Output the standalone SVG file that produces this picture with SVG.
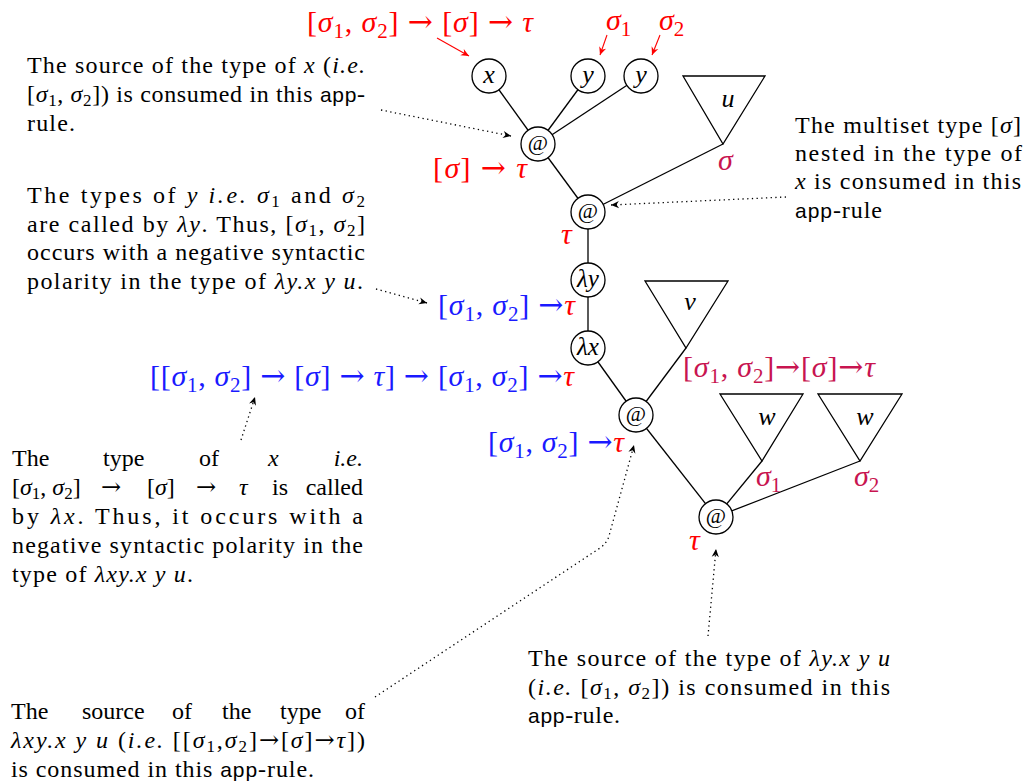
<svg xmlns="http://www.w3.org/2000/svg" width="1026" height="784" viewBox="0 0 1026 784">
<style>
.b { font-family: "Liberation Serif", "DejaVu Serif", serif; font-size: 24px; fill: #000; }
.i { font-style: italic; }
.ar { font-family: "DejaVu Serif", serif; font-style: normal; }
.sf { font-family: "Liberation Sans", "DejaVu Sans", sans-serif; font-size: 21px; }
.s { font-size: 17px; }
.L { font-family: "Liberation Serif", "DejaVu Serif", serif; font-size: 30px; }
.Ls { font-size: 21px; }
.nl { font-family: "Liberation Serif", "DejaVu Serif", serif; font-size: 26px; fill: #000; }
.lam { font-family: "Liberation Serif", "DejaVu Serif", serif; font-size: 25px; fill: #000; font-style: italic; }
.at { font-family: "Liberation Serif", "DejaVu Serif", serif; font-size: 22px; fill: #000; }
.red { fill: #ff0000; }
.blue { fill: #1a1aff; }
.crim { fill: #c81450; }
.edge { stroke: #000; stroke-width: 1.3; fill: none; }
.node circle { fill: #fff; stroke: #000; stroke-width: 1.3; }
.tri polygon { fill: none; stroke: #000; stroke-width: 1.3; stroke-linejoin: miter; }
.dot { stroke: #000; stroke-width: 1.3; stroke-dasharray: 1.3 3.4; fill: none; marker-end: url(#ah); }
.rarr { stroke: #ff0000; stroke-width: 1.1; fill: none; marker-end: url(#rh); }
</style>
<defs>
<marker id="ah" markerUnits="userSpaceOnUse" markerWidth="12" markerHeight="12" refX="0" refY="0" viewBox="-10 -6 12 12" orient="auto">
<path d="M0,0 L-8,-3.6 L-5.5,0 L-8,3.6 Z" fill="#000" stroke="none"/>
</marker>
<marker id="rh" markerUnits="userSpaceOnUse" markerWidth="12" markerHeight="12" refX="0" refY="0" viewBox="-10 -6 12 12" orient="auto">
<path d="M0,0 L-8,-3.6 L-5.5,0 L-8,3.6 Z" fill="#ff0000" stroke="none"/>
</marker>
</defs>
<rect width="1026" height="784" fill="#fff"/>

<g id="connectors">
<line class="edge" x1="489" y1="76" x2="538" y2="144"/>
<line class="edge" x1="588" y1="76" x2="538" y2="144"/>
<line class="edge" x1="641" y1="76" x2="538" y2="144"/>
<line class="edge" x1="538" y1="144" x2="588" y2="212"/>
<line class="edge" x1="723" y1="144" x2="588" y2="212"/>
<line class="edge" x1="588" y1="212" x2="588" y2="280"/>
<line class="edge" x1="588" y1="280" x2="588" y2="348"/>
<line class="edge" x1="588" y1="348" x2="636" y2="415"/>
<line class="edge" x1="686" y1="348" x2="636" y2="415"/>
<line class="edge" x1="636" y1="415" x2="716" y2="517"/>
<line class="edge" x1="762" y1="461" x2="716" y2="517"/>
<line class="edge" x1="860" y1="461" x2="716" y2="517"/>
<path class="rarr" d="M437,38 L469,56"/>
<path class="rarr" d="M607,35 L600,55"/>
<path class="rarr" d="M660,35 L652,55"/>
<path class="dot" d="M381,110 L511,136"/>
<path class="dot" d="M786,197 L611,205"/>
<path class="dot" d="M376,289 L427,303"/>
<path class="dot" d="M241,440 L255,397"/>
<path class="dot" d="M375,697 L600,548 Q607,543 609,536 L634,445"/>
<path class="dot" d="M708,636 L716,549"/>
</g>

<g id="n-x" class="node"><circle cx="489" cy="76" r="17"/><text class="nl i" x="489" y="83" text-anchor="middle">x</text></g>
<g id="n-y1" class="node"><circle cx="588" cy="76" r="17"/><text class="nl i" x="588" y="83" text-anchor="middle">y</text></g>
<g id="n-y2" class="node"><circle cx="641" cy="76" r="17"/><text class="nl i" x="641" y="83" text-anchor="middle">y</text></g>
<g id="n-app1" class="node"><circle cx="538" cy="144" r="17"/><text class="at" x="538" y="150" text-anchor="middle">@</text></g>
<g id="n-app2" class="node"><circle cx="588" cy="212" r="17"/><text class="at" x="588" y="218" text-anchor="middle">@</text></g>
<g id="n-lamy" class="node"><circle cx="588" cy="280" r="17"/><text class="lam" x="588" y="287" text-anchor="middle">λy</text></g>
<g id="n-lamx" class="node"><circle cx="588" cy="348" r="17"/><text class="lam" x="588" y="355" text-anchor="middle">λx</text></g>
<g id="n-app3" class="node"><circle cx="636" cy="415" r="17"/><text class="at" x="636" y="421" text-anchor="middle">@</text></g>
<g id="n-app4" class="node"><circle cx="716" cy="517" r="17"/><text class="at" x="716" y="523" text-anchor="middle">@</text></g>

<g id="t-u" class="tri"><polygon points="683,76 765,76 723,144"/><text class="nl i" x="728" y="107" text-anchor="middle">u</text></g>
<g id="t-v" class="tri"><polygon points="645,281 728,281 686,348"/><text class="nl i" x="690" y="310" text-anchor="middle">v</text></g>
<g id="t-w1" class="tri"><polygon points="720,394 803,394 762,461"/><text class="nl i" x="767" y="425" text-anchor="middle">w</text></g>
<g id="t-w2" class="tri"><polygon points="818,394 902,394 860,461"/><text class="nl i" x="865" y="425" text-anchor="middle">w</text></g>

<g id="type-labels">
<text class="L red" x="307" y="32" textLength="226" lengthAdjust="spacing">[<tspan class="i">σ</tspan><tspan class="Ls" dy="6">1</tspan><tspan dy="-6">, </tspan><tspan class="i">σ</tspan><tspan class="Ls" dy="6">2</tspan><tspan dy="-6">] </tspan><tspan class="ar">→</tspan> [<tspan class="i">σ</tspan>] <tspan class="ar">→</tspan> <tspan class="i">τ</tspan></text>
<text class="L red" x="606" y="30"><tspan class="i">σ</tspan><tspan class="Ls" dy="6">1</tspan></text>
<text class="L red" x="659" y="30"><tspan class="i">σ</tspan><tspan class="Ls" dy="6">2</tspan></text>
<text class="L red" x="433" y="178" textLength="94" lengthAdjust="spacing">[<tspan class="i">σ</tspan>] <tspan class="ar">→</tspan> <tspan class="i">τ</tspan></text>
<text class="L red" x="561" y="244"><tspan class="i">τ</tspan></text>
<text class="L blue" x="438" y="315" textLength="137" lengthAdjust="spacing">[<tspan class="i">σ</tspan><tspan class="Ls" dy="6">1</tspan><tspan dy="-6">, </tspan><tspan class="i">σ</tspan><tspan class="Ls" dy="6">2</tspan><tspan dy="-6">] </tspan><tspan class="ar">→</tspan><tspan class="i red">τ</tspan></text>
<text class="L blue" x="150" y="386" textLength="424" lengthAdjust="spacing">[[<tspan class="i">σ</tspan><tspan class="Ls" dy="6">1</tspan><tspan dy="-6">, </tspan><tspan class="i">σ</tspan><tspan class="Ls" dy="6">2</tspan><tspan dy="-6">] </tspan><tspan class="ar">→</tspan> [<tspan class="i">σ</tspan>] <tspan class="ar">→</tspan> <tspan class="i">τ</tspan>] <tspan class="ar">→</tspan> [<tspan class="i">σ</tspan><tspan class="Ls" dy="6">1</tspan><tspan dy="-6">, </tspan><tspan class="i">σ</tspan><tspan class="Ls" dy="6">2</tspan><tspan dy="-6">] </tspan><tspan class="ar">→</tspan><tspan class="i red">τ</tspan></text>
<text class="L crim" x="683" y="377" textLength="192" lengthAdjust="spacing">[<tspan class="i">σ</tspan><tspan class="Ls" dy="6">1</tspan><tspan dy="-6">, </tspan><tspan class="i">σ</tspan><tspan class="Ls" dy="6">2</tspan><tspan dy="-6">]</tspan><tspan class="ar">→</tspan>[<tspan class="i">σ</tspan>]<tspan class="ar">→</tspan><tspan class="i">τ</tspan></text>
<text class="L blue" x="488" y="452" textLength="136" lengthAdjust="spacing">[<tspan class="i">σ</tspan><tspan class="Ls" dy="6">1</tspan><tspan dy="-6">, </tspan><tspan class="i">σ</tspan><tspan class="Ls" dy="6">2</tspan><tspan dy="-6">] </tspan><tspan class="ar">→</tspan><tspan class="i red">τ</tspan></text>
<text class="L red" x="689" y="550"><tspan class="i">τ</tspan></text>
<text class="L crim" x="718" y="170"><tspan class="i">σ</tspan></text>
<text class="L crim" x="756" y="486"><tspan class="i">σ</tspan><tspan class="Ls" dy="6">1</tspan></text>
<text class="L crim" x="854" y="486"><tspan class="i">σ</tspan><tspan class="Ls" dy="6">2</tspan></text>
</g>

<g id="note-x-source">
<text class="b" x="27" y="73" textLength="338" lengthAdjust="spacing">The source of the type of <tspan class="i">x</tspan> (<tspan class="i">i.e.</tspan></text>
<text class="b" x="27" y="102" textLength="338" lengthAdjust="spacing">[<tspan class="i">σ</tspan><tspan class="s" dy="4">1</tspan><tspan dy="-4">, </tspan><tspan class="i">σ</tspan><tspan class="s" dy="4">2</tspan><tspan dy="-4">]) is consumed in this </tspan><tspan class="sf">app</tspan>-</text>
<text class="b" x="27" y="131" textLength="48" lengthAdjust="spacing">rule.</text>
</g>

<g id="note-y-types">
<text class="b" x="27" y="203" textLength="338" lengthAdjust="spacing">The types of <tspan class="i">y</tspan> <tspan class="i">i.e.</tspan> <tspan class="i">σ</tspan><tspan class="s" dy="4">1</tspan><tspan dy="-4"> and </tspan><tspan class="i">σ</tspan><tspan class="s" dy="4">2</tspan></text>
<text class="b" x="27" y="232" textLength="338" lengthAdjust="spacing">are called by <tspan class="i">λy</tspan>. Thus, [<tspan class="i">σ</tspan><tspan class="s" dy="4">1</tspan><tspan dy="-4">, </tspan><tspan class="i">σ</tspan><tspan class="s" dy="4">2</tspan><tspan dy="-4">]</tspan></text>
<text class="b" x="27" y="260" textLength="338" lengthAdjust="spacing">occurs with a negative syntactic</text>
<text class="b" x="27" y="289" textLength="336" lengthAdjust="spacing">polarity in the type of <tspan class="i">λy.x y u</tspan>.</text>
</g>

<g id="note-multiset">
<text class="b" x="795" y="133" textLength="226" lengthAdjust="spacing">The multiset type [<tspan class="i">σ</tspan>]</text>
<text class="b" x="795" y="161" textLength="227" lengthAdjust="spacing">nested in the type of</text>
<text class="b" x="795" y="189" textLength="226" lengthAdjust="spacing"><tspan class="i">x</tspan> is consumed in this</text>
<text class="b" x="795" y="218" textLength="87" lengthAdjust="spacing"><tspan class="sf">app</tspan>-rule</text>
</g>

<g id="note-x-type">
<text class="b" x="12" y="466">The</text>
<text class="b" x="103" y="466">type</text>
<text class="b" x="199" y="466">of</text>
<text class="b i" x="268" y="466">x</text>
<text class="b i" x="363" y="466" text-anchor="end">i.e.</text>
<text class="b" y="495"><tspan x="12">[</tspan><tspan class="i">σ</tspan><tspan class="s" dy="4">1</tspan><tspan dy="-4">, </tspan><tspan class="i">σ</tspan><tspan class="s" dy="4">2</tspan><tspan dy="-4">]</tspan><tspan x="101" class="ar">→</tspan><tspan x="147">[</tspan><tspan class="i">σ</tspan>]<tspan x="196" class="ar">→</tspan><tspan x="239" class="i">τ</tspan><tspan x="272">is</tspan></text>
<text class="b" x="363" y="495" text-anchor="end">called</text>
<text class="b" x="12" y="524" textLength="351" lengthAdjust="spacing">by <tspan class="i">λx</tspan>.  Thus, it occurs with a</text>
<text class="b" x="12" y="553" textLength="351" lengthAdjust="spacing">negative syntactic polarity in the</text>
<text class="b" x="12" y="582" textLength="181" lengthAdjust="spacing">type of <tspan class="i">λxy.x y u</tspan>.</text>
</g>

<g id="note-lxy-source">
<text class="b" x="11" y="719">The</text>
<text class="b" x="82" y="719">source</text>
<text class="b" x="172" y="719">of</text>
<text class="b" x="222" y="719">the</text>
<text class="b" x="280" y="719">type</text>
<text class="b" x="365" y="719" text-anchor="end">of</text>
<text class="b" x="11" y="748" textLength="354" lengthAdjust="spacing"><tspan class="i">λxy.x y u</tspan> (<tspan class="i">i.e.</tspan> [[<tspan class="i">σ</tspan><tspan class="s" dy="4">1</tspan><tspan dy="-4">,</tspan><tspan class="i">σ</tspan><tspan class="s" dy="4">2</tspan><tspan dy="-4">]</tspan><tspan class="ar">→</tspan>[<tspan class="i">σ</tspan>]<tspan class="ar">→</tspan><tspan class="i">τ</tspan>])</text>
<text class="b" x="11" y="777" textLength="303" lengthAdjust="spacing">is consumed in this <tspan class="sf">app</tspan>-rule.</text>
</g>

<g id="note-ly-source">
<text class="b" x="528" y="666" textLength="362" lengthAdjust="spacing">The source of the type of <tspan class="i">λy.x y u</tspan></text>
<text class="b" x="528" y="695" textLength="362" lengthAdjust="spacing">(<tspan class="i">i.e.</tspan> [<tspan class="i">σ</tspan><tspan class="s" dy="4">1</tspan><tspan dy="-4">, </tspan><tspan class="i">σ</tspan><tspan class="s" dy="4">2</tspan><tspan dy="-4">]) is consumed in this</tspan></text>
<text class="b" x="528" y="723" textLength="92" lengthAdjust="spacing"><tspan class="sf">app</tspan>-rule.</text>
</g>
</svg>
